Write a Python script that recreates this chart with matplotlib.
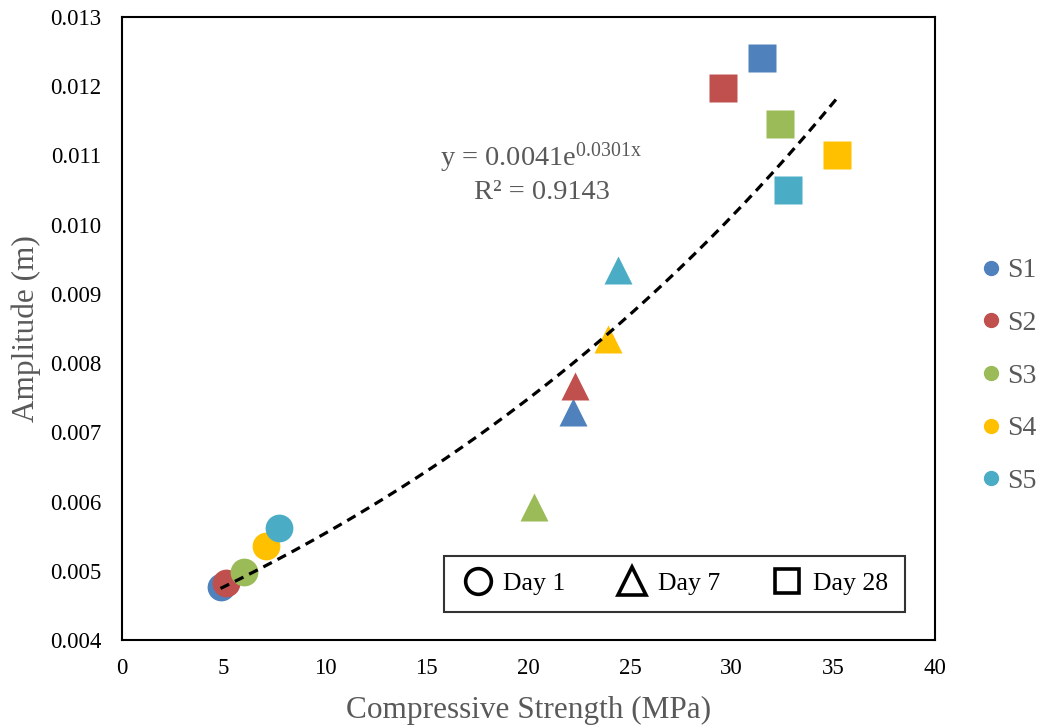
import matplotlib
matplotlib.use("Agg")
import matplotlib.pyplot as plt
from matplotlib.lines import Line2D
import numpy as np

plt.rcParams['font.family'] = ['Liberation Serif', 'DejaVu Serif']
plt.rcParams['mathtext.fontset'] = 'custom'
plt.rcParams['mathtext.rm'] = 'Liberation Serif'
plt.rcParams['mathtext.it'] = 'Liberation Serif:italic'

# Samples and their colours
samples = ['S1', 'S2', 'S3', 'S4', 'S5']
colors = ['#4F81BD', '#C0504D', '#9BBB59', '#FFC000', '#4BACC6']

# Compressive strength (MPa) and amplitude (m) per curing age
day1_strength = [4.85, 5.1, 6.0, 7.1, 7.75]
day1_amplitude = [0.00477, 0.00482, 0.00498, 0.00536, 0.00562]
day7_strength = [22.2, 22.3, 20.3, 23.9, 24.4]
day7_amplitude = [0.00730, 0.00767, 0.00592, 0.00835, 0.00935]
day28_strength = [31.5, 29.6, 32.4, 35.2, 32.8]
day28_amplitude = [0.01241, 0.01198, 0.01146, 0.01101, 0.01050]

# Exponential trendline y = a * exp(b x)
fit_a = 0.0041
fit_b = 0.0301
fit_r2 = 0.9143

x_ticks = [0, 5, 10, 15, 20, 25, 30, 35, 40]
y_ticks = [0.004, 0.005, 0.006, 0.007, 0.008, 0.009, 0.010, 0.011, 0.012, 0.013]

fig = plt.figure(figsize=(10.49, 7.27), dpi=100)
ax = fig.add_axes([0.1163, 0.1197, 0.7747, 0.857])

all_x = day1_strength + day7_strength + day28_strength
xs = np.linspace(min(all_x), max(all_x), 200)
ax.plot(xs, fit_a * np.exp(fit_b * xs), ls=(0, (3, 2)), color='black', lw=2.3, zorder=3)

ms = 20
for i in range(len(samples)):
    ax.plot(day1_strength[i], day1_amplitude[i], 'o', ms=ms, color=colors[i], mec='none', zorder=2)
    ax.plot(day7_strength[i], day7_amplitude[i], '^', ms=ms, color=colors[i], mec='none', zorder=2)
    ax.plot(day28_strength[i], day28_amplitude[i], 's', ms=ms, color=colors[i], mec='none', zorder=2)

ax.set_xlim(0, 40)
ax.set_ylim(0.004, 0.013)
ax.set_xticks(x_ticks)
ax.set_xticklabels([str(v) for v in x_ticks])
ax.set_yticks(y_ticks)
ax.set_yticklabels([f'{v:.3f}' for v in y_ticks])
ax.tick_params(length=0, labelsize=16.5, colors='black')
ax.tick_params(axis='x', pad=13)
ax.tick_params(axis='y', pad=15)
for sp in ax.spines.values():
    sp.set_linewidth(1.5)
    sp.set_color('black')

ax.set_xlabel('Compressive Strength (MPa)', fontsize=22.5, color='#595959', labelpad=12)
ax.set_ylabel('Amplitude (m)', fontsize=22.5, color='#595959', labelpad=6)

ax.text(20.65, 0.01096, r'y = 0.0041e$^{\mathregular{0.0301x}}$', fontsize=20.5,
        color='#595959', ha='center', va='center')
ax.text(20.65, 0.01047, f'R² = {fit_r2}', fontsize=20.5, color='#595959',
        ha='center', va='center')

# Curing-age legend inside the axes
age_handles = [
    Line2D([], [], marker='o', ls='none', ms=18.5, mfc='none', mec='black', mew=2.6),
    Line2D([], [], marker='^', ls='none', ms=20, mfc='none', mec='black', mew=2.6),
    Line2D([], [], marker='s', ls='none', ms=17, mfc='none', mec='black', mew=2.6),
]
leg = ax.legend(age_handles, ['Day 1', 'Day 7', 'Day 28'], loc='lower right',
                bbox_to_anchor=(0.963, 0.045), borderaxespad=0, ncol=3, fontsize=18.5,
                frameon=True, fancybox=False, edgecolor='black', handletextpad=0.35,
                columnspacing=1.95, borderpad=0.65, handlelength=1.3)
leg.get_frame().set_linewidth(1.5)

# Sample legend on the right
sample_handles = [Line2D([], [], marker='o', ls='none', ms=10, color=c) for c in colors]
fig.legend(sample_handles, samples, loc='center left', bbox_to_anchor=(0.908, 0.483),
           frameon=False, fontsize=20, labelcolor='#595959', handletextpad=0.05,
           labelspacing=0.98, handlelength=1.0)

fig.savefig('out.png', dpi=100)
